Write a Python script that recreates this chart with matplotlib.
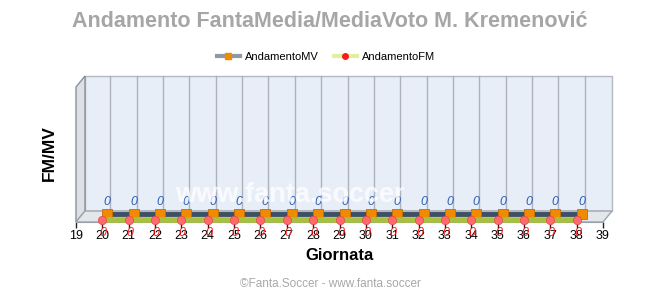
import matplotlib
matplotlib.use('Agg')
import matplotlib.pyplot as plt
from matplotlib.transforms import ScaledTranslation
from matplotlib.patches import Polygon
from matplotlib.lines import Line2D

# ---- data ----
giornate = list(range(20, 39))
andamento_mv = [0] * 19
andamento_fm = [0] * 19
x_ticks = list(range(19, 40))
title = "Andamento FantaMedia/MediaVoto M. Kremenović"
x_label = "Giornata"
y_label = "FM/MV"
series_names = ["AndamentoMV", "AndamentoFM"]
footer = "©Fanta.Soccer - www.fanta.soccer"
watermark = "www.fanta.soccer"

plt.rcParams['font.family'] = ['Liberation Sans', 'DejaVu Sans']

W, H, DPI = 660, 300, 100
fig = plt.figure(figsize=(W / DPI, H / DPI), dpi=DPI)
fig.patch.set_facecolor('white')

# front plane of the plot (pixels)
L, R, B, T = 76, 603, 222, 87
ax = fig.add_axes([L / W, (H - B) / H, (R - L) / W, (B - T) / H])
ax.set_xlim(19, 39)
ax.set_ylim(0, 10)
ax.patch.set_visible(False)
for s in ['top', 'right', 'left']:
    ax.spines[s].set_visible(False)
ax.spines['bottom'].set_color('#9aa0a8')
ax.set_yticks([])
ax.set_xticks(x_ticks)
ax.set_xticklabels([str(t) for t in x_ticks], fontsize=9, color='black')
ax.tick_params(axis='x', length=4, width=1, color='#222222', pad=2)

# depth offsets
DX, DY = 9, 11
dxa, dya = DX / (R - L), DY / (B - T)


def shift(tr, dx, dy):
    return tr + ScaledTranslation(dx / DPI, dy / DPI, fig.dpi_scale_trans)


# back wall
ax.add_patch(Polygon([(dxa, dya), (1 + dxa, dya), (1 + dxa, 1 + dya), (dxa, 1 + dya)],
                     closed=True, transform=ax.transAxes, facecolor='#e8eef8',
                     edgecolor='#b4b8c0', lw=1, clip_on=False, zorder=0))
# left wall
ax.add_patch(Polygon([(0, 0), (0, 1), (dxa, 1 + dya), (dxa, dya)],
                     closed=True, transform=ax.transAxes, facecolor='#dde1e7',
                     edgecolor='#8c9098', lw=1, clip_on=False, zorder=1))
# floor
ax.add_patch(Polygon([(0, 0), (1, 0), (1 + dxa, dya), (dxa, dya)],
                     closed=True, transform=ax.transAxes, facecolor='#e3e6eb',
                     edgecolor='#a0a4ac', lw=1, clip_on=False, zorder=1))

# gridlines on back wall
gtr = shift(ax.get_xaxis_transform(), DX - 1, DY)
for g in giornate:
    ax.plot([g, g], [0, 1], transform=gtr, color='#aeb2ba', lw=1,
            clip_on=False, zorder=0.5)

# MV series (back ribbon)
mv_tr = shift(ax.transData, 5, 8)
ax.plot(giornate, andamento_mv, transform=shift(ax.transData, 5, 9.5), color='#8fa0b4',
        lw=1.5, clip_on=False, zorder=3, solid_capstyle='butt')
ax.plot(giornate, andamento_mv, transform=mv_tr, color='#3e5064',
        lw=3.5, clip_on=False, zorder=3, solid_capstyle='butt')
ax.plot(giornate, andamento_mv, transform=mv_tr, linestyle='none', marker='s',
        markersize=7, markerfacecolor='#f08a00', markeredgecolor='#c86e00',
        markeredgewidth=0.6, clip_on=False, zorder=4)
for g, v in zip(giornate, andamento_mv):
    ax.text(g, v, f"{v:g}", transform=shift(ax.transData, 5, 20), fontsize=9,
            style='italic', color='#2a5fb8', ha='center', va='center',
            clip_on=False, zorder=5)

# FM series (front ribbon)
fm_tr = shift(ax.transData, 0, 2.5)
ax.plot(giornate, andamento_fm, transform=fm_tr, color='#a8c040',
        lw=4, clip_on=False, zorder=5, solid_capstyle='butt')
ax.plot(giornate, andamento_fm, transform=shift(ax.transData, 0, 2), linestyle='none',
        marker='o', markersize=6, markerfacecolor='#ff6a6a', markeredgecolor='#e84848',
        markeredgewidth=0.5, clip_on=False, zorder=6)
for g, v in zip(giornate, andamento_fm):
    ax.text(g, v, f"{v:g}", transform=shift(ax.transData, 1, -11), fontsize=9,
            style='italic', color='#ff1a1a', ha='center', va='center',
            clip_on=False, zorder=7)

# watermark
fig.text(290 / W, 1 - 195 / H, watermark, color='white', alpha=0.75, fontsize=19.5,
         fontweight='bold', ha='center', va='center', zorder=10)

# title, labels
fig.text(329.5 / W, 1 - 21.5 / H, title, color='#a6a6a6', fontsize=15.5, fontweight='bold',
         ha='center', va='center')
fig.text(339 / W, 1 - 255 / H, x_label, color='black', fontsize=12, fontweight='bold',
         ha='center', va='center')
fig.text(49 / W, 1 - 153 / H, y_label, color='black', fontsize=12.5, fontweight='bold',
         ha='center', va='center', rotation=90)
fig.text(330 / W, 1 - 284 / H, footer, color='#a8a8a8', fontsize=8.5,
         ha='center', va='center')

# legend
handles = [
    Line2D([], [], color='#8c9aa8', lw=3, marker='s', markersize=5,
           markerfacecolor='#f08a00', markeredgecolor='#f08a00'),
    Line2D([], [], color='#e0f0a0', lw=3, marker='o', markersize=4,
           markerfacecolor='#ff1a1a', markeredgecolor='#ff1a1a'),
]
fig.legend(handles, series_names, loc='center', bbox_to_anchor=(326 / W, 1 - 57 / H),
           ncol=2, frameon=False, handlelength=2.0, handletextpad=0.45,
           columnspacing=1.45, borderpad=0, prop={'size': 8})

fig.savefig('out.png', dpi=DPI)
